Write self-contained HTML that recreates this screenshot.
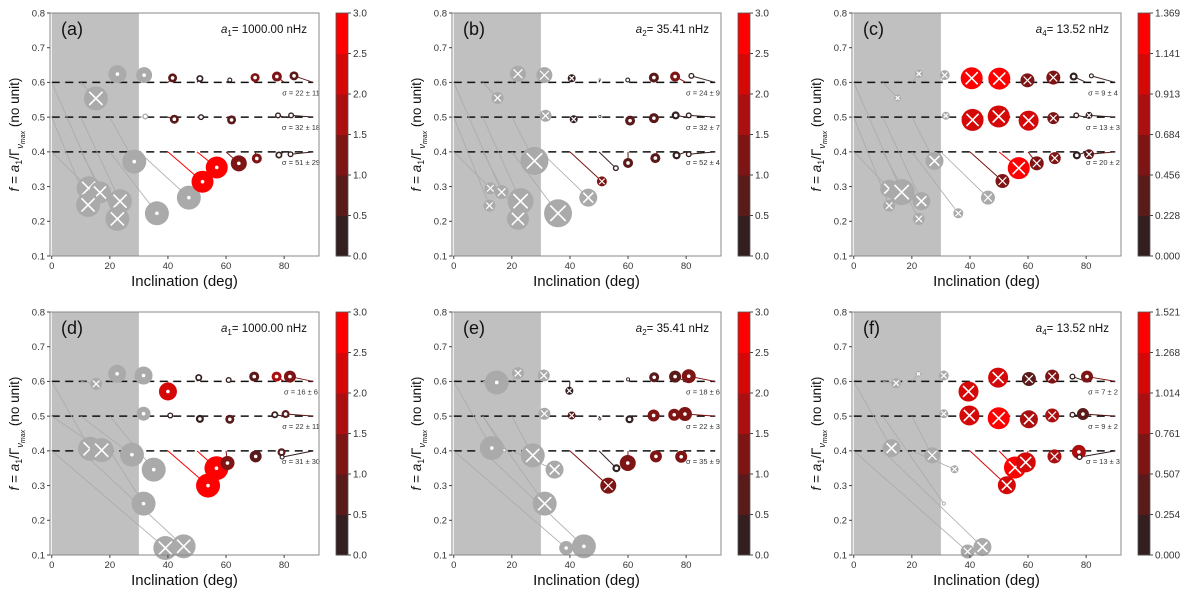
<!DOCTYPE html>
<html><head><meta charset="utf-8"><style>
html,body{margin:0;padding:0;background:#fff;}
svg{display:block;font-family:"Liberation Sans","DejaVu Sans",sans-serif;}
</style></head><body>
<svg id="fig" width="1200" height="597" viewBox="0 0 1200 597" xmlns="http://www.w3.org/2000/svg"></svg>
<script>
// ---------- data (gray points: val = -1; mark: 0 = dot, 1 = cross) ----------
const incA=[22.6,31.8,15.2,32.2,28.4,12.7,16.6,12.5,23.5,22.6,36.2,47.2, 51.9,56.8,64.4,70.6,78.2,82.2, 42.2,51.4,61.9,77.9,82.4, 41.6,51.0,61.3,70.0,77.5,83.4];
const fA=[0.624,0.621,0.554,0.502,0.372,0.295,0.283,0.247,0.258,0.207,0.223,0.268, 0.314,0.355,0.367,0.381,0.391,0.393, 0.494,0.500,0.492,0.505,0.505, 0.613,0.611,0.607,0.614,0.617,0.619];
const sizeA=[9,8,12,3,12,12,11,12,12,12,12,12, 11,11,8,5,3.5,3, 4.5,3,4.5,3,3, 4.5,3.5,2.5,4.5,5,4.5];
const valA=[-1,-1,-1,-1,-1,-1,-1,-1,-1,-1,-1,-1, 3.0,2.5,1.3,1.0,0.3,0.1, 0.7,0.2,0.5,0.1,0.1, 0.6,0.2,0.1,1.0,1.0,0.6];
const markA=[0,0,1,0,0,1,1,1,1,1,0,0, 0,0,0,0,0,0, 0,0,0,0,0, 0,0,0,0,0,0];
const trueIncA=[20,30,10,30,20,0,0,0,10,10,20,30, 40,50,60,70,80,90, 40,50,60,80,90, 40,50,60,70,80,90];
const trueFA=[0.6,0.6,0.6,0.5,0.5,0.4,0.6,0.5,0.5,0.4,0.4,0.4, 0.4,0.4,0.4,0.4,0.4,0.4, 0.5,0.5,0.5,0.5,0.5, 0.6,0.6,0.6,0.6,0.6,0.6];

const incB=[22.1,31.2,15.1,31.6,27.8,12.6,16.5,12.3,23.0,22.1,35.9,46.3, 51.0,55.8,60.0,69.4,76.7,80.9, 41.3,50.3,60.7,68.9,76.4,80.9, 40.6,50.3,59.9,68.9,76.2,81.8];
const fB=[0.625,0.621,0.555,0.504,0.374,0.295,0.284,0.245,0.258,0.207,0.223,0.268, 0.315,0.353,0.368,0.382,0.390,0.393, 0.494,0.502,0.490,0.497,0.505,0.505, 0.612,0.608,0.607,0.614,0.617,0.619];
const sizeB=[8,8,6,6,14,6,7,6,13,11,14,9, 5,3,5,5,4,3, 4,1.5,5,5,4,3, 4,1.2,2.5,5,5,3];
const valB=[-1,-1,-1,-1,-1,-1,-1,-1,-1,-1,-1,-1, 1.3,0.1,0.8,0.8,0.4,0.1, 0.3,0.1,0.9,0.9,0.4,0.1, 0.3,0.1,0.1,0.9,1.0,0.1];
const markB=[1,1,1,1,1,1,1,1,1,1,1,1, 1,0,0,0,0,0, 1,0,0,0,0,0, 1,0,0,0,0,0];
const trueIncB=[20,30,10,30,20,0,0,0,10,10,20,30, 40,50,60,70,80,90, 40,50,60,70,80,90, 40,50,60,70,80,90];
const trueFB=[0.6,0.6,0.6,0.5,0.5,0.4,0.6,0.5,0.5,0.4,0.4,0.4, 0.4,0.4,0.4,0.4,0.4,0.4, 0.5,0.5,0.5,0.5,0.5,0.5, 0.6,0.6,0.6,0.6,0.6,0.6];

const incC=[22.4,31.3,15.1,31.7,27.8,12.2,16.5,12.2,23.3,22.4,36.0,46.2, 51.2,56.8,63.0,69.2,76.8,81.0, 40.9,49.9,60.2,68.7,76.6,81.0, 40.6,50.1,59.8,68.7,75.7,81.8];
const fC=[0.625,0.621,0.555,0.504,0.374,0.294,0.284,0.245,0.258,0.207,0.223,0.268, 0.316,0.353,0.367,0.382,0.390,0.393, 0.492,0.502,0.490,0.497,0.505,0.505, 0.612,0.611,0.606,0.614,0.617,0.619];
const sizeC=[4,5,3.5,4,9,9,13,6,9,6,5,7, 7,11,7,6,4,5, 11,11,10,6,3,3.5, 11,11,7,7,4,2.5];
const valC=[-1,-1,-1,-1,-1,-1,-1,-1,-1,-1,-1,-1, 0.55,1.37,0.6,0.6,0.1,0.3, 1.1,1.1,1.0,0.6,0.1,0.2, 1.2,1.25,0.55,0.6,0.1,0.1];
const markC=[1,1,1,1,1,1,1,1,1,1,1,1, 1,1,1,1,0,1, 1,1,1,1,0,1, 1,1,1,1,0,0];
const trueIncC=trueIncB;
const trueFC=trueFB;

const incD=[22.5,31.6,15.3,31.6,13.2,17.2,27.6,35.1,31.6,39.1,45.4, 53.8,56.7,60.5,70.2,79.1,79.3, 40.8,51.0,61.3,76.8,80.5, 40.0,50.6,60.9,69.7,77.4,82.0];
const fD=[0.622,0.617,0.593,0.507,0.406,0.402,0.389,0.346,0.248,0.120,0.125, 0.300,0.350,0.365,0.384,0.396,0.382, 0.502,0.492,0.491,0.504,0.506, 0.571,0.611,0.604,0.614,0.614,0.614];
const sizeD=[9,9,6,7,12,12,12,12,12,12,12, 12,12,7,6,4,2.5, 3,4,4.5,3.5,4, 9,3.5,3,5,5,6];
const valD=[-1,-1,-1,-1,-1,-1,-1,-1,-1,-1,-1, 3.0,2.9,1.2,0.8,0.8,0.1, 0.2,0.2,0.5,0.2,0.6, 2.3,0.2,0.1,0.9,1.7,1.0];
const markD=[0,0,1,0,1,1,0,0,0,1,1, 0,0,0,0,0,0, 0,0,0,0,0, 0,0,0,0,0,0];
const trueIncD=[20,30,10,30,0,0,10,20,20,0,10, 40,50,60,70,80,90, 40,50,60,80,90, 40,50,60,70,80,90];
const trueFD=[0.6,0.6,0.6,0.5,0.6,0.5,0.5,0.5,0.4,0.4,0.4, 0.4,0.4,0.4,0.4,0.4,0.4, 0.5,0.5,0.5,0.5,0.5, 0.6,0.6,0.6,0.6,0.6,0.6];

const incE=[14.8,22.1,31.0,31.2,13.1,17.4,27.2,34.7,31.3,38.7,44.8, 53.2,56.0,59.9,69.6,78.3, 40.6,50.3,60.5,68.8,75.9,79.6, 39.8,60.0,69.0,76.2,80.9];
const fE=[0.597,0.624,0.617,0.507,0.408,0.402,0.387,0.346,0.248,0.120,0.125, 0.300,0.350,0.365,0.384,0.383, 0.502,0.492,0.491,0.502,0.504,0.506, 0.573,0.606,0.612,0.614,0.615];
const sizeE=[12,6,6,6,12,2,12,9,12,7,12, 8,4,8,6,6, 4,1.5,4,6,6,7, 4,2,5,6,7];
const valE=[-1,-1,-1,-1,-1,-1,-1,-1,-1,-1,-1, 1.3,0.2,1.4,1.2,1.3, 0.6,0.05,0.3,1.3,1.2,1.4, 0.2,0.1,0.8,0.8,1.3];
const markE=[0,1,1,1,0,0,1,1,1,0,0, 1,0,0,0,0, 1,0,0,0,0,0, 1,0,0,0,0];
const trueIncE=[10,20,30,30,0,10,20,20,10,0,10, 40,50,60,70,80, 40,50,60,70,80,90, 40,60,70,80,90];
const trueFE=[0.6,0.6,0.6,0.5,0.6,0.5,0.5,0.4,0.5,0.4,0.4, 0.4,0.4,0.4,0.4,0.4, 0.5,0.5,0.5,0.5,0.5,0.5, 0.6,0.6,0.6,0.6,0.6];

const incF=[14.6,22.3,31.0,31.0,13.0,27.0,34.7,31.0,39.2,44.3, 52.7,55.5,59.2,69.1,77.5,77.7, 39.8,49.9,60.3,68.3,75.3,78.9, 39.5,49.7,60.3,68.3,75.3,80.3];
const fF=[0.595,0.622,0.617,0.507,0.408,0.387,0.347,0.248,0.110,0.123, 0.301,0.352,0.367,0.384,0.397,0.382, 0.502,0.494,0.491,0.502,0.504,0.506, 0.571,0.611,0.607,0.614,0.614,0.614];
const sizeF=[5,3,5,4.5,9,8,4,2,7,9, 9,11,10,7,7,3, 10,11,9,7,3,6, 10,10,7,7,3,6];
const valF=[-1,-1,-1,-1,-1,-1,-1,-1,-1,-1, 1.2,1.52,1.2,0.9,1.0,0.1, 1.1,1.45,0.9,0.9,0.1,0.5, 1.1,1.2,0.5,0.7,0.1,0.7];
const markF=[1,1,1,1,1,1,1,0,1,1, 1,1,1,1,0,0, 1,1,1,1,0,0, 1,1,1,1,0,0];
const trueIncF=[10,20,30,30,0,20,20,10,0,10, 40,50,60,70,80,90, 40,50,60,70,80,90, 40,50,60,70,80,90];
const trueFF=[0.6,0.6,0.6,0.5,0.6,0.5,0.4,0.5,0.4,0.4, 0.4,0.4,0.4,0.4,0.4,0.4, 0.5,0.5,0.5,0.5,0.5,0.5, 0.6,0.6,0.6,0.6,0.6,0.6];

const xTicks=[0,20,40,60,80];
const yTicks=[0.1,0.2,0.3,0.4,0.5,0.6,0.7,0.8];
const levels=[0.6,0.5,0.4];
const cbarTicks3=["0.0","0.5","1.0","1.5","2.0","2.5","3.0"];
const cbarTicksC=["0.000","0.228","0.456","0.684","0.913","1.141","1.369"];
const cbarTicksF=["0.000","0.254","0.507","0.761","1.014","1.268","1.521"];
const sigmaA=["σ = 22 ± 11","σ = 32 ± 18","σ = 51 ± 29"];
const sigmaB=["σ = 24 ± 9","σ = 32 ± 7","σ = 52 ± 4"];
const sigmaC=["σ = 9 ± 4","σ = 13 ± 3","σ = 20 ± 2"];
const sigmaD=["σ = 16 ± 6","σ = 22 ± 11","σ = 31 ± 30"];
const sigmaE=["σ = 18 ± 6","σ = 22 ± 3","σ = 35 ± 9"];
const sigmaF=["σ = 7 ± 2","σ = 9 ± 2","σ = 13 ± 3"];
const cmapColors=["#331f1f","#5a1a1a","#7e1414","#ab0f0f","#d50808","#ff0000"];

const panels=[
 {id:"a",left:50,top:13,inc:incA,f:fA,size:sizeA,val:valA,mark:markA,ti:trueIncA,tf:trueFA,vmax:3.0,cb:cbarTicks3,sig:sigmaA,coef:"1",freq:"1000.00"},
 {id:"b",left:452,top:13,inc:incB,f:fB,size:sizeB,val:valB,mark:markB,ti:trueIncB,tf:trueFB,vmax:3.0,cb:cbarTicks3,sig:sigmaB,coef:"2",freq:"35.41"},
 {id:"c",left:852,top:13,inc:incC,f:fC,size:sizeC,val:valC,mark:markC,ti:trueIncC,tf:trueFC,vmax:1.369,cb:cbarTicksC,sig:sigmaC,coef:"4",freq:"13.52"},
 {id:"d",left:50,top:312,inc:incD,f:fD,size:sizeD,val:valD,mark:markD,ti:trueIncD,tf:trueFD,vmax:3.0,cb:cbarTicks3,sig:sigmaD,coef:"1",freq:"1000.00"},
 {id:"e",left:452,top:312,inc:incE,f:fE,size:sizeE,val:valE,mark:markE,ti:trueIncE,tf:trueFE,vmax:3.0,cb:cbarTicks3,sig:sigmaE,coef:"2",freq:"35.41"},
 {id:"f",left:852,top:312,inc:incF,f:fF,size:sizeF,val:valF,mark:markF,ti:trueIncF,tf:trueFF,vmax:1.521,cb:cbarTicksF,sig:sigmaF,coef:"4",freq:"13.52"}
];

const NS="http://www.w3.org/2000/svg";
const svg=document.getElementById("fig");
function mk(tag,attrs,parent){const e=document.createElementNS(NS,tag);for(const k in attrs)e.setAttribute(k,attrs[k]);(parent||svg).appendChild(e);return e;}
const W=269,H=243,XMIN=-0.6,XMAX=92.0,YMIN=0.1,YMAX=0.8;

function colorFor(v,vmax){if(v<0)return "#aaaaaa";let i=Math.floor(v/vmax*6);if(i>5)i=5;if(i<0)i=0;return cmapColors[i];}

panels.forEach(p=>{
 const g=mk("g",{});
 
 
 const xs=v=>p.left+(v-XMIN)/(XMAX-XMIN)*W;
 const ys=v=>p.top+(YMAX-v)/(YMAX-YMIN)*H;
 const sh=mk("rect",{x:xs(0),y:p.top,width:xs(30)-xs(0),height:H,fill:"#c0c0c0"},g);
 
 
 levels.forEach(l=>{
  const ln=mk("line",{x1:xs(0),x2:xs(90),y1:ys(l),y2:ys(l),stroke:"#111","stroke-width":1.5,"stroke-dasharray":"8,5.5"},g);
  
  
 });
 p.inc.forEach((v,i)=>{
  const c=colorFor(p.val[i],p.vmax);
  const ln=mk("line",{x1:xs(p.ti[i]),y1:ys(p.tf[i]),x2:xs(v),y2:ys(p.f[i]),stroke:c,"stroke-width":p.val[i]<0?0.8:1},g);
  
  
 });
 p.inc.forEach((v,i)=>{
  const cx=xs(v),cy=ys(p.f[i]),r=p.size[i],c=colorFor(p.val[i],p.vmax);
  const mg=mk("g",{},g);
  
  
  mk("circle",{cx:cx,cy:cy,r:r,fill:c},mg);
  if(p.mark[i]===1){
   const a=r*0.55,sw=r>8?1.6:1.2;
   mk("line",{x1:cx-a,y1:cy-a,x2:cx+a,y2:cy+a,stroke:"#fff","stroke-width":sw},mg);
   mk("line",{x1:cx-a,y1:cy+a,x2:cx+a,y2:cy-a,stroke:"#fff","stroke-width":sw},mg);
  }else{
   mk("circle",{cx:cx,cy:cy,r:Math.min(1.8,r*0.55),fill:"#fff"},mg);
  }
 });
 levels.forEach((l,k)=>{
  const t=mk("text",{x:p.left+251,y:ys(l)+13,"font-size":7.5,fill:"#333","text-anchor":"middle"},g);
  t.textContent=p.sig[k];
  
  
 });
 const fr=mk("rect",{x:p.left,y:p.top,width:W,height:H,fill:"none",stroke:"#888","stroke-width":1},g);
 
 
 xTicks.forEach(t=>{
  mk("line",{x1:xs(t),x2:xs(t),y1:p.top+H,y2:p.top+H+3,stroke:"#444"},g);
  const tx=mk("text",{x:xs(t),y:p.top+H+13,"font-size":9.5,fill:"#333","text-anchor":"middle"},g);
  tx.textContent=t;
  
  
 });
 yTicks.forEach(t=>{
  mk("line",{x1:p.left-3,x2:p.left,y1:ys(t),y2:ys(t),stroke:"#444"},g);
  const tx=mk("text",{x:p.left-5,y:ys(t)+3.3,"font-size":9.5,fill:"#333","text-anchor":"end"},g);
  tx.textContent=t.toFixed(1);
  
  
 });
 const pl=mk("text",{x:p.left+11,y:p.top+22,"font-size":18,fill:"#111"},g);
 pl.textContent="("+p.id+")";
 
 
 const tt=mk("text",{x:p.left+257,y:p.top+20,"font-size":11.5,fill:"#111","text-anchor":"end"},g);
 
 
 tt.innerHTML='<tspan font-style="italic">a</tspan><tspan font-size="8" dy="3">'+p.coef+'</tspan><tspan dy="-3">= '+p.freq+' nHz</tspan>';
 const xl=mk("text",{x:p.left+W/2,y:p.top+H+30,"font-size":15,fill:"#111","text-anchor":"middle"},g);
 xl.textContent="Inclination (deg)";
 
 
 const cyy=p.top+H/2;
 const yl=mk("text",{x:0,y:0,"font-size":13.5,fill:"#111","text-anchor":"middle",transform:"translate("+(p.left-31)+","+cyy+") rotate(-90)"},g);
 
 
 yl.innerHTML='<tspan font-style="italic">f</tspan> = <tspan font-style="italic">a</tspan><tspan font-size="9" dy="3">1</tspan><tspan dy="-3">/Γ</tspan><tspan font-size="9" dy="4" font-style="italic">ν</tspan><tspan font-size="7" dy="2" font-style="italic">max</tspan><tspan dy="-6">  (no unit)</tspan>';
 const cbx=p.left+286,cbw=12;
 const cbg=mk("g",{},g);
 
 
 cmapColors.forEach((c,k)=>{
  mk("rect",{x:cbx,y:p.top+H-(k+1)*H/6,width:cbw,height:H/6+0.5,fill:c},cbg);
 });
 mk("rect",{x:cbx,y:p.top,width:cbw,height:H,fill:"none",stroke:"#555","stroke-width":0.8},cbg);
 p.cb.forEach((t,k)=>{
  const yy=p.top+H-k*H/6;
  mk("line",{x1:cbx+cbw,x2:cbx+cbw+3,y1:yy,y2:yy,stroke:"#444"},cbg);
  const tx=mk("text",{x:cbx+cbw+5,y:yy+3.5,"font-size":10,fill:"#333"},cbg);
  tx.textContent=t;
  
  
 });
});
</script>
</body></html>
